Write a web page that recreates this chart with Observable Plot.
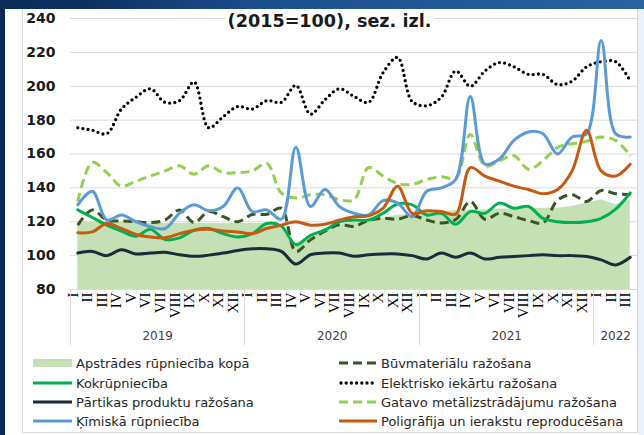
<!DOCTYPE html>
<html><head><meta charset="utf-8">
<script src="https://cdn.jsdelivr.net/npm/d3@7"></script>
<script src="https://cdn.jsdelivr.net/npm/@observablehq/plot@0.6"></script>
<style>
html,body{margin:0;padding:0;}
body{width:644px;height:435px;overflow:hidden;position:relative;background:#eaf0f7;font-family:"DejaVu Sans",Verdana,sans-serif;}
#frameL{position:absolute;left:0;top:0;width:5px;height:435px;background:#0b2a57;}
#frameT{position:absolute;left:0;top:0;width:644px;height:9px;background:linear-gradient(90deg,#0b2a57 0%,#0d2f5f 12%,#1b4f8c 40%,#2a629e 100%);}
#panel{position:absolute;left:5px;top:9px;width:633px;height:426px;background:#fff;}
#box{position:absolute;left:22px;top:9px;width:616px;height:424px;border:1px solid #d9d9d9;border-top:none;box-sizing:border-box;}
#chart{position:absolute;left:0;top:0;}
#title{position:absolute;left:329.5px;top:10.5px;transform:translateX(-50%);background:#fff;padding:0 3px;font:bold 17.6px/20px "DejaVu Sans",Verdana,sans-serif;color:#1a1a1a;white-space:nowrap;}
.item{position:absolute;height:18px;display:flex;align-items:center;font-size:13px;color:#262626;white-space:nowrap;}
.item svg{margin-right:4px;flex:none;}
</style>
</head><body>
<div id="frameL"></div><div id="frameT"></div><div id="panel"></div><div id="box"></div>
<div id="chart"></div>
<div id="title">(2015=100), sez. izl.</div>
<div id="legend"></div>
<script>
// ---- data ----
const monthLabels = ["I","II","III","IV","V","VI","VII","VIII","IX","X","XI","XII",
  "I","II","III","IV","V","VI","VII","VIII","IX","X","XI","XII",
  "I","II","III","IV","V","VI","VII","VIII","IX","X","XI","XII",
  "I","II","III"];
const yearLabels = ["2019","2020","2021","2022"];
const yearMonths = [12,12,12,3];
const yTicks = [80,100,120,140,160,180,200,220,240];

const apstrades = [120,120,120,120,119,119,119,119,119,119,119,119,
  119,119,117,107,112,116,118,120,121,122,124,124,
  126,126,126.5,127,127,127.5,127.5,128,128,128,129,131,
  133,130,133];
const kokrupnieciba = [127,122.5,118,114.5,111.5,115.5,109.5,110.5,115,116,113,111,
  113,119,117.5,106.5,112,115,120,121,121,125,130.5,130,
  124,125,118.5,126,125,131,128,129,122,120,119.5,120,
  122,127.5,137];
const partika = [101.5,102.5,100,103.5,101,101.5,102,100.5,99.6,100.3,101.5,103,
  104,104,102.5,95,100.5,101.5,101.5,99.6,100.5,101,101,100,
  98,101.5,99,101.5,98,99,99.5,100,100.5,100,100,99.5,
  97.5,94.5,99];
const kimiska = [130,138,121,124,120,117,116,125,130,126.5,129,140,
  126,127,121.5,164,129,139,129,125,124,132.5,131,123,
  138,140,145,194,154,157,168,173,172,160,170,172,
  227,172,170];
const buvmaterialu = [118,127,121,120.5,120,119.5,121,127,119.5,126,123,120,
  124.3,124.4,128,102.5,109.3,114.4,118.3,117.3,120.7,122,121.5,123.7,
  121,119.3,121.3,132,121.5,125,123,120.7,119.3,132.7,136,132,
  138.5,136.5,136];
const elektro = [175.5,174,172,186.5,193.5,198.5,190.5,191.5,202.5,175.5,182,188,
  186.5,191.5,190.5,200.5,183.5,192,198.5,194,190.5,208,217,191,
  188.5,193.5,209,200,209,214,211.5,207,207,201,203,211.5,
  214.5,214.5,203];
const gatavo = [132,155,149,141,144,147,150,153,148,153,149,149,
  150,154.5,137,134,136,136,133,133,152,147,142.5,142,
  145,146.5,146,171.5,153,156,159,151,156,164,166,167.5,
  170,168,159];
const poligrafija = [113.5,114,119,116,112.5,111,110.5,113,115,115.5,114.5,114,
  113,116,118,120,118,118.5,121,123,123.5,128,141,125,
  126.5,126,124.5,152,147,144,141,139,136.5,139,150,174,
  150,147,154];

// ---- series styling ----
const lineSeries = [
  {name:"Būvmateriālu ražošana", values:buvmaterialu, stroke:"#375623", dash:"9,5", cap:"butt"},
  {name:"Kokrūpniecība", values:kokrupnieciba, stroke:"#00b050"},
  {name:"Elektrisko iekārtu ražošana", values:elektro, stroke:"#000000", dash:"0,5.2", cap:"round", width:3.3},
  {name:"Pārtikas produktu ražošana", values:partika, stroke:"#1c2a3a"},
  {name:"Gatavo metālizstrādājumu ražošana", values:gatavo, stroke:"#92d050", dash:"9,5", cap:"butt"},
  {name:"Ķīmiskā rūpniecība", values:kimiska, stroke:"#5b9bd5"},
  {name:"Poligrāfija un ierakstu reproducēšana", values:poligrafija, stroke:"#c55a11"}
];
const areaColor = "#c5e0b4";

const idx = monthLabels.map((_, i) => i);

// year centers and boundaries
const yearCenters = [], boundaries = [-0.5];
{ let s = 0; for (const n of yearMonths) { yearCenters.push(s + (n - 1) / 2); s += n; boundaries.push(s - 0.5); } }

function yearSeparators(index, scales, values, dims) {
  const g = d3.create("svg:g");
  const y0 = dims.height - dims.marginBottom;
  const n = monthLabels.length;
  const sx = (scales && typeof scales.x === "function") ? scales.x
    : (b => dims.marginLeft + (b + 0.5) / n * (dims.width - dims.marginLeft - dims.marginRight));
  for (const b of boundaries) {
    const x = Math.round(sx(b)) + 0.5;
    g.append("line").attr("x1", x).attr("x2", x).attr("y1", y0).attr("y2", y0 + 56)
      .attr("stroke", "#d9d9d9").attr("stroke-width", 1);
  }
  return g.node();
}

const marks = [
  Plot.ruleY(yTicks, {y: d => d, stroke: "#d9d9d9", strokeWidth: 1}),
  Plot.areaY(idx, {x: i => i, y1: 80, y2: i => apstrades[i], fill: areaColor}),
  Plot.ruleY([80], {stroke: "#d9d9d9"}),
  ...lineSeries.map(s => Plot.line(idx, {
    x: i => i, y: i => s.values[i], stroke: s.stroke, strokeWidth: s.width || 3,
    strokeDasharray: s.dash, strokeLinecap: s.cap || "round", strokeLinejoin: "round",
    curve: "catmull-rom"
  })),
  Plot.text(yTicks, {y: d => d, text: d => String(d), frameAnchor: "left", textAnchor: "end",
    dx: -15, fontSize: 14, fontWeight: "bold", fill: "#1a1a1a", fontFamily: "DejaVu Sans"}),
  Plot.text(idx, {x: i => i, text: i => monthLabels[i], frameAnchor: "bottom", rotate: -90,
    textAnchor: "end", dy: 3, fontSize: 15, fill: "#000", fontFamily: "Liberation Serif"}),
  Plot.text(yearLabels, {x: (d, i) => yearCenters[i], text: d => d, frameAnchor: "bottom",
    dy: 50, fontSize: 12, fill: "#404040", fontFamily: "DejaVu Sans"}),
  yearSeparators
];

const chart = Plot.plot({
  width: 644, height: 350,
  marginLeft: 70, marginRight: 7, marginTop: 18, marginBottom: 61,
  x: {domain: [-0.5, monthLabels.length - 0.5], axis: null},
  y: {domain: [80, 240], axis: null},
  style: {background: "transparent", overflow: "visible", fontFamily: "DejaVu Sans"},
  marks
});
document.getElementById("chart").appendChild(chart);

// ---- legend ----
const legendItems = [
  {name:"Apstrādes rūpniecība kopā", area:true},
  ...lineSeries
];
const leftCol = ["Apstrādes rūpniecība kopā","Kokrūpniecība","Pārtikas produktu ražošana","Ķīmiskā rūpniecība"];
const rightCol = ["Būvmateriālu ražošana","Elektrisko iekārtu ražošana","Gatavo metālizstrādājumu ražošana","Poligrāfija un ierakstu reproducēšana"];
const rowY = [363, 383, 402, 421];
const legend = document.getElementById("legend");
function swatch(item, w) {
  if (item.area) return `<svg width="${w}" height="10"><rect x="0" y="1" width="${w}" height="8" fill="${areaColor}"/></svg>`;
  const cap = item.cap || "round";
  const da = item.dash ? `stroke-dasharray="${item.dash}"` : "";
  const x1 = item.cap === "round" ? 2 : 0, x2 = item.cap === "round" ? w - 1 : w;
  return `<svg width="${w}" height="10"><line x1="${x1}" x2="${x2}" y1="5" y2="5" stroke="${item.stroke}" stroke-width="${item.width || 3}" stroke-linecap="${cap}" ${da}/></svg>`;
}
function addCol(names, left, w) {
  names.forEach((n, r) => {
    const item = legendItems.find(d => d.name === n);
    const div = document.createElement("div");
    div.className = "item";
    div.style.left = left + "px";
    div.style.top = (rowY[r] - 9) + "px";
    div.innerHTML = swatch(item, w) + `<span>${n}</span>`;
    legend.appendChild(div);
  });
}
addCol(leftCol, 33, 39);
addCol(rightCol, 339, 38);
</script>
</body></html>
